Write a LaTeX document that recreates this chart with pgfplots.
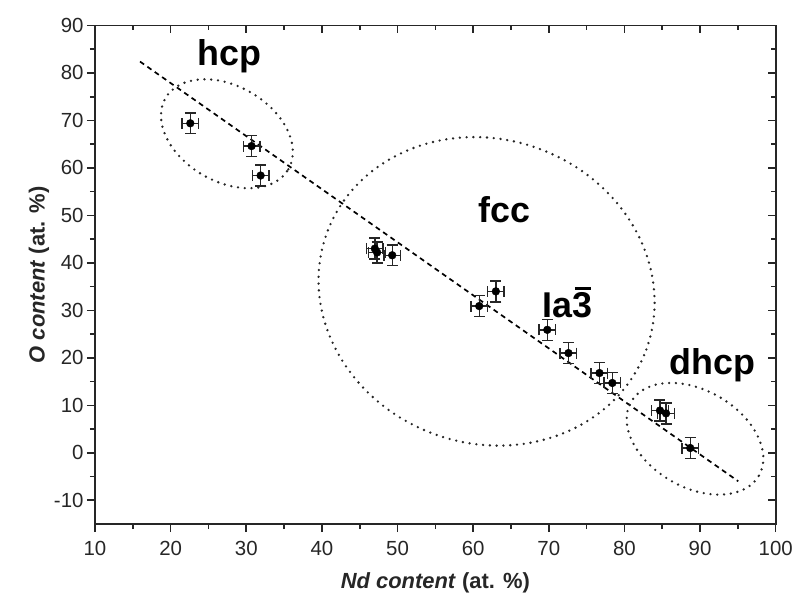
\documentclass[border=0pt]{standalone}
\usepackage{pgfplots}
\pgfplotsset{compat=1.18}
\usepackage{fontspec}
\setmainfont{Liberation Sans}
\begin{document}
\begin{tikzpicture}
\pgfplotsset{
  myaxis/.style={
    scale only axis, width=680.7bp, height=498.5bp,
    xmin=10, xmax=100, ymin=-15, ymax=90,
    xtick={10,20,...,100}, ytick={-10,0,...,90},
    minor x tick num=1, minor y tick num=1,
    major tick length=8bp, minor tick length=5bp,
    axis line style={line width=1.7bp, black!85},
    every tick/.style={line width=1.6bp, black!85},
    /pgf/number format/assume math mode=true,
    tick label style={font=\fontsize{20.5}{23}\selectfont, black!85},
  }
}
\begin{axis}[myaxis,
  tick align=outside, xtick pos=left, ytick pos=left,
  xlabel={\textbf{\textit{Nd content} (at. \%)}},
  ylabel={\textbf{\textit{O content} (at. \%)}},
  label style={font=\fontsize{22}{26}\selectfont, black!85},
  xticklabel style={yshift=-6bp},
  xlabel style={yshift=-10bp},
  ylabel style={yshift=-2bp},
  clip=false,
]
\coordinate (O) at (rel axis cs:0,0);
\coordinate (Chcp) at (axis cs:27.44,67.2);
\coordinate (Cfcc) at (axis cs:61.77,34.0);
\coordinate (Cdhcp) at (axis cs:89.33,2.95);
% fit line
\addplot[black, line width=1.7bp, dash pattern=on 5bp off 4bp] coordinates {(15.95,82.4) (95.05,-6.0)};
% data
\addplot[only marks, mark=*, mark size=3.9bp, black,
  error bars/.cd, x dir=both, x explicit, y dir=both, y explicit,
  error bar style={line width=1.4bp, black!85},
  error mark=-,
  error mark options={rotate=90, line width=1.4bp, mark size=5.5bp, black!85}]
  coordinates {
  (22.6,69.4) +- (1.1,2.2)
  (30.7,64.6) +- (1.1,2.2)
  (31.9,58.4) +- (1.1,2.2)
  (47.0,43.0) +- (1.1,2.2)
  (47.3,42.2) +- (1.1,2.2)
  (49.3,41.6) +- (1.1,2.2)
  (60.8,30.9) +- (1.1,2.2)
  (63.0,34.0) +- (1.1,2.2)
  (69.8,25.9) +- (1.1,2.2)
  (72.6,21.0) +- (1.1,2.2)
  (76.7,16.8) +- (1.1,2.2)
  (78.4,14.7) +- (1.1,2.2)
  (84.7,8.9) +- (1.1,2.2)
  (85.5,8.3) +- (1.1,2.2)
  (88.7,1.0) +- (1.1,2.2)
  };
\node[anchor=base, font=\fontsize{36}{40}\selectfont\bfseries] at (axis cs:27.8,81.5) {hcp};
\node[anchor=base, font=\fontsize{36}{40}\selectfont\bfseries] at (axis cs:64.1,48.4) {fcc};
\node[anchor=base, font=\fontsize{36}{40}\selectfont\bfseries] at (axis cs:72.5,28.4) {Ia\makebox[0pt][l]{\hspace{0.06em}\raisebox{0.78em}{\rule{0.45em}{0.08em}}}3};
\node[anchor=base, font=\fontsize{36}{40}\selectfont\bfseries] at (axis cs:91.6,16.4) {dhcp};
\end{axis}
\begin{axis}[myaxis,
  tick align=inside, xtick pos=right, ytick pos=right,
  xticklabels={}, yticklabels={},
]
\end{axis}
\tikzset{ell/.style={black!85, line width=2.6bp, line cap=round, dash pattern=on 0bp off 6.8bp}}
\draw[ell, rotate around={-30:(Chcp)}] (Chcp) ellipse [x radius=71bp, y radius=47.7bp];
\draw[ell, rotate around={-20:(Cfcc)}] (Cfcc) ellipse [x radius=170bp, y radius=152bp];
\draw[ell, rotate around={-30:(Cdhcp)}] (Cdhcp) ellipse [x radius=73.8bp, y radius=48.4bp];
\pgfresetboundingbox
\path[use as bounding box] ([shift={(-95bp,-76bp)}]O) rectangle ++(792bp,600bp);
\end{tikzpicture}
\end{document}
